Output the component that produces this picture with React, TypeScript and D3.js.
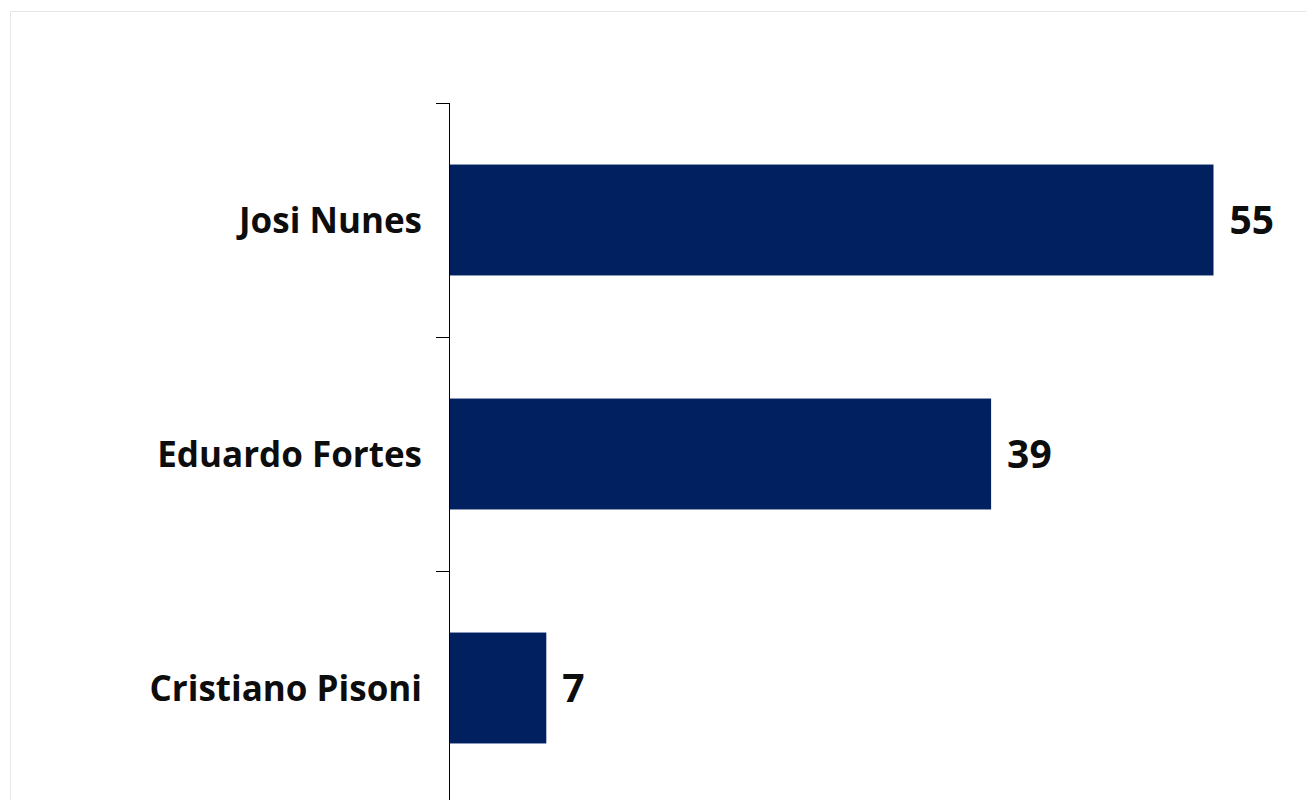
import React from "react";
import * as d3 from "d3";

const categories = ["Josi Nunes", "Eduardo Fortes", "Cristiano Pisoni"];
const values = [55, 39, 7];

const W = 1306;
const H = 800;

export default function App() {
  const x = d3.scaleLinear().domain([0, 60]).range([449, 1283]);
  const yOuter = d3.scaleBand<string>().domain(categories).range([103, 805]).padding(0);
  const y = d3
    .scaleBand<string>()
    .domain(categories)
    .range([103, 805])
    .paddingInner(0.526)
    .paddingOuter(0.263);

  const tickYs = categories.map((c) => yOuter(c) as number).concat([yOuter.range()[1]]);
  const font = "'Open Sans', sans-serif";

  return (
    <svg
      width={W}
      height={H}
      style={{ position: "absolute", left: 0, top: 0, background: "#fff" }}
    >
      <rect x={10.5} y={11.5} width={1320} height={820} fill="#fff" stroke="#e6e6e6" strokeWidth={1} />
      {categories.map((c, i) => (
        <g key={c}>
          <rect
            x={x(0)}
            y={y(c)}
            width={x(values[i]) - x(0)}
            height={y.bandwidth()}
            fill="#002060"
          />
          <text
            x={x(values[i]) + 16}
            y={(y(c) as number) + y.bandwidth() / 2}
            dy="0.36em"
            fontFamily={font}
            fontWeight="bold"
            fontSize={39}
            fill="#0d0d0d"
          >
            {values[i]}
          </text>
          <text
            x={422}
            y={(yOuter(c) as number) + yOuter.bandwidth() / 2}
            dy="0.36em"
            textAnchor="end"
            fontFamily={font}
            fontWeight="bold"
            fontSize={35}
            fill="#0d0d0d"
          >
            {c}
          </text>
        </g>
      ))}
      <line x1={449.5} x2={449.5} y1={103} y2={805} stroke="#000" strokeWidth={1} />
      {tickYs.map((t, i) => (
        <line key={i} x1={436} x2={449.5} y1={t + 0.5} y2={t + 0.5} stroke="#000" strokeWidth={1} />
      ))}
    </svg>
  );
}
